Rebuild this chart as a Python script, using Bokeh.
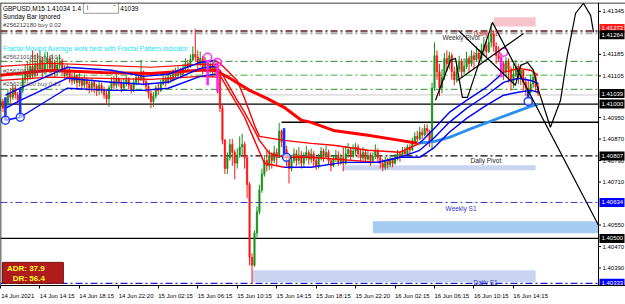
from bokeh.plotting import figure
from bokeh.models import Range1d, FixedTicker, Span, Label
from bokeh.core.properties import value
from bokeh.embed import file_html
from bokeh.resources import INLINE

# ---------------- data (prices in points above 1.40000, 1 point = 0.00001) ----------------
BASE = 1.40000
PT = 0.00001
first_open = 990
closes = [
    1010, 985, 1000, 1040, 1025, 1060, 1035, 1015, 1050, 1090,
    1120, 1100, 1140, 1110, 1150, 1130, 1165, 1125, 1150, 1170,
    1135, 1155, 1120, 1145, 1160, 1130, 1110, 1125, 1100, 1085,
    1105, 1080, 1095, 1070, 1090, 1075, 1060, 1080, 1065, 1050,
    1070, 1055, 1035, 1020, 1060, 1085, 1070, 1095, 1080, 1060,
    1075, 1090, 1070, 1055, 1080, 1100, 1090, 1120, 1085, 1065,
    1040, 1010, 1030, 1060, 1050, 1075, 1095, 1080, 1100, 1090,
    1115, 1105, 1125, 1110, 1135, 1150, 1140, 1165, 1185, 1175,
    1150, 1170, 1135, 1155, 1130, 1145, 1120, 1140, 1100, 985,
    865, 760, 800, 850, 820, 780, 810, 840, 850, 800,
    700, 430, 400, 520, 600, 680, 740, 790, 770, 810,
    790, 820, 800, 900, 860, 830, 800, 760, 790, 815,
    790, 810, 780, 800, 820, 795, 815, 790, 770, 800,
    825, 805, 820, 790, 770, 795, 810, 785, 800, 780,
    815, 830, 805, 825, 840, 815, 800, 820, 795, 810,
    790, 805, 825, 800, 780, 765, 790, 775, 795, 780,
    800, 815, 805, 825, 815, 840, 830, 860, 880, 870,
    895, 885, 910, 900, 860, 1060, 1180, 1120, 1060, 1100,
    1170, 1150, 1180, 1120, 1090, 1130, 1160, 1120, 1140, 1170,
    1150, 1180, 1165, 1190, 1170, 1200, 1220, 1195, 1230, 1260,
    1215, 1180, 1170, 1150, 1120, 1160, 1130, 1085, 1110, 1140,
    1100, 1125, 1080, 1060, 1045, 1075, 1100, 1065, 1039,
]
highs = [
    1025, 1020, 1015, 1055, 1060, 1075, 1070, 1045, 1065, 1110,
    1150, 1160, 1170, 1200, 1185, 1190, 1200, 1175, 1190, 1195,
    1180, 1185, 1165, 1175, 1185, 1170, 1145, 1150, 1135, 1115,
    1125, 1110, 1115, 1100, 1110, 1100, 1090, 1095, 1090, 1075,
    1085, 1080, 1065, 1050, 1070, 1100, 1105, 1110, 1100, 1090,
    1095, 1105, 1100, 1080, 1095, 1120, 1115, 1165, 1125, 1095,
    1075, 1050, 1045, 1070, 1075, 1090, 1110, 1105, 1115, 1120,
    1130, 1135, 1140, 1135, 1150, 1170, 1165, 1185, 1215, 1280,
    1200, 1195, 1180, 1175, 1160, 1165, 1155, 1160, 1150, 1105,
    1000, 870, 820, 870, 870, 830, 835, 880, 890, 860,
    810, 710, 445, 530, 620, 700, 760, 810, 825, 830,
    820, 845, 835, 930, 905, 910, 845, 810, 810, 835,
    830, 840, 825, 820, 845, 830, 835, 825, 800, 815,
    840, 835, 845, 830, 800, 810, 830, 825, 815, 840,
    845, 855, 840, 850, 855, 850, 830, 840, 830, 830,
    820, 820, 850, 835, 810, 795, 805, 800, 810, 800,
    815, 830, 825, 840, 840, 850, 850, 875, 895, 900,
    915, 910, 925, 925, 905, 1080, 1230, 1200, 1150, 1130,
    1190, 1200, 1195, 1190, 1140, 1150, 1180, 1170, 1170, 1195,
    1180, 1200, 1195, 1215, 1205, 1225, 1250, 1240, 1260, 1300,
    1275, 1230, 1215, 1190, 1160, 1175, 1170, 1140, 1150, 1165,
    1150, 1145, 1130, 1100, 1090, 1110, 1120, 1110, 1080,
]
lows = [
    975, 970, 960, 990, 1005, 1015, 1020, 995, 975, 1040,
    1080, 1085, 1090, 1095, 1100, 1105, 1120, 1100, 1110, 1130,
    1115, 1120, 1100, 1105, 1130, 1110, 1090, 1095, 1080, 1070,
    1075, 1060, 1065, 1055, 1060, 1050, 1040, 1045, 1040, 1030,
    1035, 1040, 1020, 1000, 990, 1050, 1055, 1060, 1065, 1045,
    1050, 1065, 1055, 1040, 1045, 1070, 1075, 1085, 1070, 1045,
    1020, 985, 990, 1020, 1035, 1045, 1070, 1065, 1075, 1080,
    1085, 1095, 1100, 1095, 1105, 1125, 1125, 1135, 1160, 1160,
    1130, 1140, 1110, 1120, 1100, 1115, 1100, 1105, 1040, 970,
    850, 740, 740, 790, 770, 720, 760, 800, 810, 760,
    650, 400, 333, 395, 505, 590, 670, 730, 750, 755,
    760, 780, 770, 800, 840, 810, 770, 705, 750, 780,
    770, 775, 760, 765, 790, 775, 780, 770, 755, 760,
    790, 785, 800, 775, 750, 765, 785, 770, 775, 750,
    775, 800, 790, 800, 810, 800, 785, 790, 780, 790,
    770, 780, 795, 785, 760, 750, 755, 760, 765, 765,
    775, 790, 785, 800, 805, 810, 815, 825, 850, 855,
    865, 870, 880, 880, 840, 830, 1050, 1090, 1030, 1040,
    1090, 1120, 1130, 1090, 1070, 1080, 1120, 1100, 1110, 1130,
    1120, 1140, 1130, 1160, 1150, 1160, 1180, 1175, 1190, 1210,
    1195, 1150, 1160, 1110, 1090, 1100, 1080, 1050, 1060, 1100,
    1075, 1070, 1050, 1030, 1025, 1040, 1060, 1045, 1030,
]

# moving averages (knots: bar index, points)
fast_top_x = [2, 8, 27, 45, 58, 68, 81, 87, 89, 96, 99, 103, 105, 115, 126, 135, 149, 162, 170, 176, 182, 189, 197, 204, 210, 215, 218]
fast_top_y = [1033, 1059, 1137, 1126, 1103, 1111, 1155, 1163, 1152, 1088, 1021, 921, 880, 865, 854, 847, 828, 821, 854, 910, 969, 1014, 1062, 1118, 1133, 1126, 1107]
fast_top_red = [(87, 170), (204, 218)]
fast_mid_x = [2, 8, 27, 45, 58, 68, 81, 87, 89, 96, 99, 103, 105, 109, 115, 126, 153, 162, 170, 176, 182, 189, 197, 204, 210, 215, 218]
fast_mid_y = [984, 1014, 1096, 1081, 1074, 1081, 1133, 1140, 1126, 1014, 969, 902, 865, 817, 802, 802, 783, 802, 828, 876, 932, 984, 1033, 1081, 1096, 1088, 1077]
fast_mid_red = [(87, 153)]
fast_bot_x = [2, 8, 27, 45, 58, 68, 81, 87, 89, 99, 103, 107, 115, 126, 139, 153, 162, 170, 176, 182, 189, 197, 204, 210, 215, 218]
fast_bot_y = [940, 951, 1059, 1051, 1051, 1059, 1103, 1111, 1107, 951, 865, 780, 765, 765, 783, 783, 802, 802, 839, 895, 947, 995, 1033, 1044, 1051, 1044]
fast_bot_red = [(87, 115)]
slow_red_x = [0, 20, 41, 61, 81, 87, 93, 101, 108, 115, 122, 126, 135, 149, 162, 169]
slow_red_y = [1107, 1126, 1118, 1114, 1126, 1126, 1096, 1051, 1021, 988, 940, 932, 902, 884, 865, 854]
slow_blue_x = [169, 176, 182, 189, 203, 216, 218]
slow_blue_y = [854, 861, 876, 902, 951, 995, 999]
env_up_x = [0, 20, 41, 61, 81, 88]
env_up_y = [1140, 1152, 1144, 1137, 1148, 1148]
env_lo_x = [0, 20, 41, 61, 81, 88]
env_lo_y = [1088, 1100, 1096, 1092, 1103, 1100]

# fractals
frac_up_x = [84, 88, 204]
frac_up_y = [1174, 1155, 1193]
frac_dn_x = [2, 8, 116, 214]
frac_dn_y = [940, 951, 802, 1010]
hl_up_x = [84, 88, 203]
hl_up_top = [1163, 1155, 1175]
hl_up_bot = [1070, 1045, 1100]
hl_dn_x = [2, 8, 115, 214]
hl_dn_top = [1025, 1059, 910, 1051]
hl_dn_bot = [940, 947, 809, 1021]

# hand-drawn wave lines
wave1_x = [176.4, 182.5, 184.5, 187.3, 189.4, 199.5, 242.5]
wave1_y = [1014, 1163, 1170, 1025, 1025, 1304, 549]
wave2_x = [185.7, 208.8, 210.9, 213.7, 216.1, 217.8, 223.0, 227.1, 229.9, 233.2, 236.4, 239.3, 240.5]
wave2_y = [1274, 1070, 1144, 1155, 1126, 1062, 914, 1014, 1181, 1338, 1375, 1330, 1267]
wave3_x = [185.3, 212.1]
wave3_y = [1088, 1263]

# levels
level_prices = [1.41272, 1.41264, 1.41159, 1.41107, 1.41055, 1.41034, 1.41000, 1.40807, 1.40634, 1.40500, 1.40333]
level_colors = ["#5a1818", "#a8a8a8", "#2e8b2e", "#80c880", "#2e8b2e", "#c8c8c8", "#000000", "#000000", "#3a3ad8", "#000000", "#1a1ae0"]
level_dash = ["7 3 2 3", "7 3 2 3", "7 3 2 3", "7 3 2 3", "7 3 2 3", "solid", "solid", "7 3 2 3", "7 3 2 3", "solid", "7 3 2 3"]
level_width = [1.5, 2, 1, 1.5, 1, 1, 1.2, 1.2, 1, 1.2, 1.2]

# zones: left bar, right bar, bottom pts, top pts
zone_l = [200, 139, 151, 102]
zone_r = [217, 217, 242.5, 217]
zone_b = [1289, 754, 519, 337]
zone_t = [1323, 772, 564, 382]
zone_c = ["#f7c4cb", "#c9d4f1", "#a6cbf3", "#c9d4f1"]

# price scale labels
y_ticks = [1.41345, 1.41185, 1.41105, 1.40950, 1.40870, 1.40790, 1.40710, 1.40550, 1.40470, 1.40390]
tag_prices = [1.41272, 1.41264, 1.41039, 1.41000, 1.40807, 1.40634, 1.40500, 1.40333]
tag_colors = ["#ff1a1a", "#000000", "#000000", "#000000", "#000000", "#0000ff", "#000000", "#0000ff"]
time_labels = ["14 Jun 2021", "14 Jun 14:15", "14 Jun 18:15", "14 Jun 22:20", "15 Jun 02:15", "15 Jun 06:15",
               "15 Jun 10:15", "15 Jun 14:15", "15 Jun 18:15", "15 Jun 22:20", "16 Jun 02:15", "16 Jun 06:15",
               "16 Jun 10:15", "16 Jun 14:15"]
BARS_PER_LABEL = 16


def pr(v):
    return BASE + v * PT


FONT = "Liberation Sans"
X_END = 242.5                 # right edge of the chart area (price scale starts here)
X_MAX = X_END * 625 / 598     # whole canvas width in bar units
PX = X_END / 598              # one pixel in bar units
PY = 0.0000372                # one pixel in price units
Y0, Y1 = 1.40325, 1.41378

p = figure(width=625, height=304, x_range=Range1d(0, X_MAX), y_range=Range1d(Y0, Y1),
           y_axis_location=None, toolbar_location=None, output_backend="svg",
           min_border_left=0, min_border_right=0, min_border_top=2, min_border_bottom=19)
p.background_fill_color = "white"
p.border_fill_color = "white"
p.outline_line_color = None
p.xgrid.visible = False
p.ygrid.visible = False

# zones
p.quad(left=zone_l, right=zone_r, bottom=[pr(v) for v in zone_b], top=[pr(v) for v in zone_t],
       fill_color=zone_c, line_color=None)

# levels
for lp, lc, ld, lw in zip(level_prices, level_colors, level_dash, level_width):
    p.add_layout(Span(location=lp, dimension="width", line_color=lc, line_dash=ld, line_width=lw, level="underlay"))
p.segment(x0=[114], y0=[1.40932], x1=[X_END], y1=[1.40932], line_color="black", line_width=1.5)

# candles
n = len(closes)
xs = list(range(n))
opens = [first_open] + closes[:-1]
cols = ["#14911a" if c >= o else "#ff1414" for o, c in zip(opens, closes)]
p.segment(x0=xs, y0=[pr(v) for v in lows], x1=xs, y1=[pr(v) for v in highs], line_color=cols, line_width=1)
p.vbar(x=xs, width=0.6, top=[pr(max(o, c)) for o, c in zip(opens, closes)],
       bottom=[pr(min(o, c)) for o, c in zip(opens, closes)], fill_color=cols, line_color=cols, line_width=0.5)


def draw_band(kx, ky, red_spans, width):
    runs = []
    for i in range(len(kx) - 1):
        mid = (kx[i] + kx[i + 1]) / 2
        red = any(a <= mid <= b for a, b in red_spans)
        col = "#ff0000" if red else "#0000ff"
        if runs and runs[-1][2] == col:
            runs[-1][0].append(kx[i + 1])
            runs[-1][1].append(pr(ky[i + 1]))
        else:
            runs.append(([kx[i], kx[i + 1]], [pr(ky[i]), pr(ky[i + 1])], col))
    for rx, ry, rc in runs:
        p.line(rx, ry, line_color=rc, line_width=width)


p.line(env_up_x, [pr(v) for v in env_up_y], line_color="#ff0000", line_width=1.2)
p.line(env_lo_x, [pr(v) for v in env_lo_y], line_color="#ff0000", line_width=1.2)
p.line(slow_red_x, [pr(v) for v in slow_red_y], line_color="#ff0000", line_width=3)
p.line(slow_blue_x, [pr(v) for v in slow_blue_y], line_color="#2a8ff0", line_width=2.8)
draw_band(fast_top_x, fast_top_y, fast_top_red, 1.4)
draw_band(fast_mid_x, fast_mid_y, fast_mid_red, 1.4)
draw_band(fast_bot_x, fast_bot_y, fast_bot_red, 1.4)

# fractal highlights
p.segment(x0=hl_up_x, y0=[pr(v) for v in hl_up_bot], x1=hl_up_x, y1=[pr(v) for v in hl_up_top],
          line_color="#ff20ff", line_width=2.5)
p.segment(x0=hl_dn_x, y0=[pr(v) for v in hl_dn_bot], x1=hl_dn_x, y1=[pr(v) for v in hl_dn_top],
          line_color="#1030ff", line_width=2.5)
p.scatter(frac_up_x, [pr(v) for v in frac_up_y], marker="circle", size=8, fill_alpha=0,
          line_color="#ff30ff", line_width=1.5)
p.scatter(frac_dn_x, [pr(v) for v in frac_dn_y], marker="circle", size=8, fill_color="white", fill_alpha=0.6,
          line_color="#2040ff", line_width=1.5)

# hand drawings
for wx, wy in ((wave1_x, wave1_y), (wave2_x, wave2_y), (wave3_x, wave3_y)):
    p.line(wx, [pr(v) for v in wy], line_color="black", line_width=1.2)

# ADR box
p.quad(left=[0.8], right=[25.5], bottom=[pr(333)], top=[pr(411)], fill_color="#b01c1c", line_color="#7a1010")

# header box
p.quad(left=[33.6], right=[47.9], bottom=[pr(1338)], top=[pr(1384)], fill_color="white", line_color="#9a9a9a")


def txt(x, yv, s, color="#222222", size="6.5px", style="normal", align="left", baseline="middle"):
    p.add_layout(Label(x=x, y=yv, text=s, text_color=color, text_font=FONT, text_font_size=size,
                       text_font_style=style, text_align=align, text_baseline=baseline))


txt(1.0, pr(1356), "GBPUSD,M15  1.41034 1.4", color="black")
txt(48.6, pr(1356), "41039", color="black")
txt(35.0, pr(1358), "i", color="#333333")
txt(45.8, pr(1358), "ˇ", color="#333333")
txt(1.0, pr(1326), "Sunday Bar ignored", color="black")
txt(1.0, pr(1293), "#256212180 buy 0.02", color="#444444", size="6px")
txt(1.0, pr(1207), "Fractal Moving Average work best with Fractal Pattern Indicator", color="#22dff0", size="6.6px")
txt(1.0, pr(1174), "#256210180 buy 0.01", color="#555555", size="6px")
txt(1.0, pr(1122), "#256209180 buy 0.01", color="#555555", size="6px")
txt(1.0, pr(1074), "#256201180 buy 0.23", color="#555555", size="6px")
txt(179.2, pr(1248), "Weekly Pivot", color="#333333")
txt(191.8, pr(1263), "Daily R1", color="#c03030")
txt(190.6, pr(791), "Daily Pivot", color="#222222")
txt(180.5, pr(612), "Weekly S1", color="#3333cc")
txt(191.8, Y0, "Daily S1", color="#2a2ad0", baseline="bottom")
txt(2.6, pr(388), "ADR: 37.9", color="#ffff20", size="8px", style="bold")
txt(5.0, pr(352), "DR: 56.4", color="#ffff20", size="8px", style="bold")

# ---- price scale (right side, drawn inside the canvas) ----
p.quad(left=[X_END], right=[X_MAX], bottom=[Y0], top=[Y1], fill_color="white", line_color=None)
p.segment(x0=[X_END], y0=[Y0], x1=[X_END], y1=[Y1], line_color="black", line_width=1)
p.segment(x0=[0], y0=[Y0], x1=[0], y1=[Y1], line_color="black", line_width=1.5)
p.segment(x0=[0], y0=[Y1 - PY * 0.5], x1=[X_MAX], y1=[Y1 - PY * 0.5], line_color="black", line_width=1)
p.segment(x0=[X_END] * len(y_ticks), y0=y_ticks, x1=[X_END + 2.5 * PX] * len(y_ticks), y1=y_ticks,
          line_color="black", line_width=1)
p.text(x=[X_END + 4 * PX] * len(y_ticks), y=y_ticks, text=[f"{t:.5f}" for t in y_ticks],
       text_font=value(FONT), text_font_size="6px", text_color="black", text_baseline="middle")
tag_nudge = [2.5, -1.5, 0, 0, 0, 0, 0, 0]   # pixel nudges so overlapping tags stay readable
tag_y = [tp + nd * PY for tp, nd in zip(tag_prices, tag_nudge)]
p.quad(left=[X_END + 1 * PX] * len(tag_y), right=[X_END + 26 * PX] * len(tag_y),
       bottom=[t - 4.5 * PY for t in tag_y], top=[t + 4.5 * PY for t in tag_y],
       fill_color=tag_colors, line_color=None)
p.text(x=[X_END + 3 * PX] * len(tag_y), y=tag_y, text=[f"{t:.5f}" for t in tag_prices],
       text_font=value(FONT), text_font_size="6px", text_color="white", text_baseline="middle")

# ---- time axis (labels start at their tick, MT4 style) ----
starts = [BARS_PER_LABEL * k for k in range(len(time_labels))]
centers = [s + 7 for s in starts]
p.xaxis.ticker = FixedTicker(ticks=centers, minor_ticks=starts)
p.xaxis.major_label_overrides = {c: t for c, t in zip(centers, time_labels)}
p.xaxis.major_label_text_font = FONT
p.xaxis.major_label_text_font_size = "6px"
p.xaxis.major_label_text_color = "black"
p.xaxis.major_tick_out = 0
p.xaxis.major_tick_in = 0
p.xaxis.minor_tick_out = 3
p.xaxis.minor_tick_in = 0
p.xaxis.major_label_standoff = 4
p.xaxis.axis_line_color = "black"

open("out.html", "w").write(file_html(p, INLINE))
